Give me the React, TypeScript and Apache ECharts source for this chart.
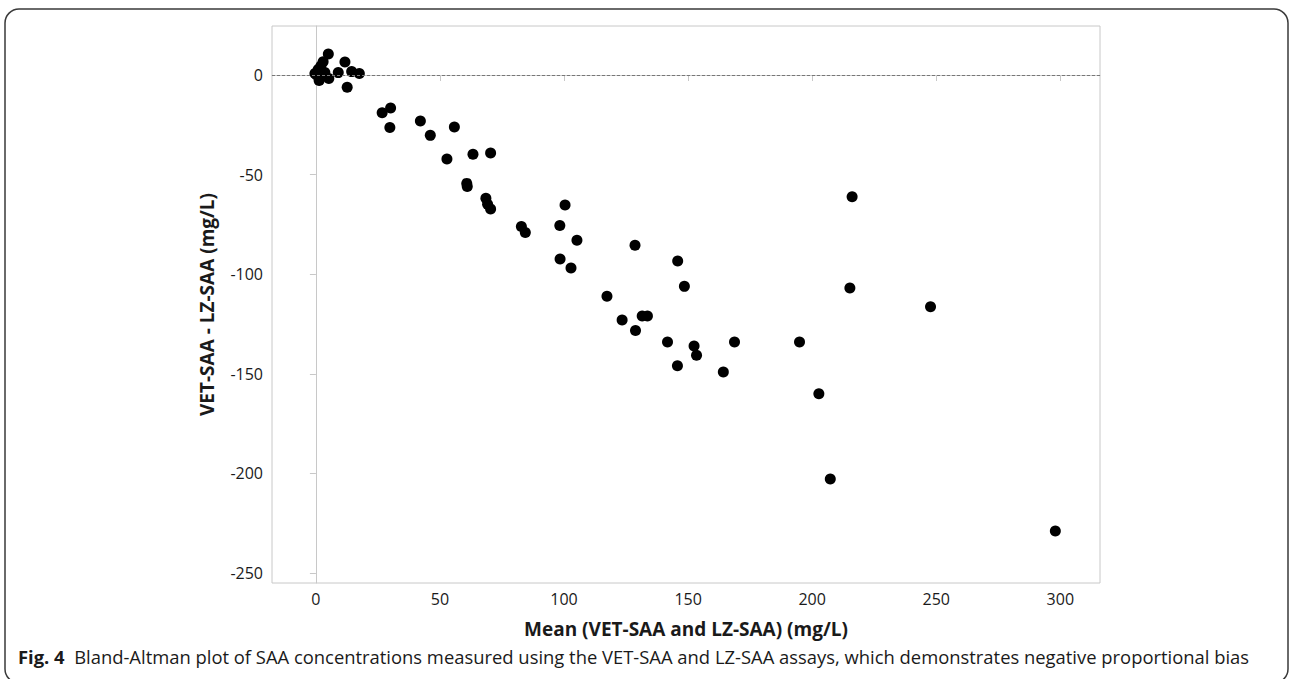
import React, { useEffect, useRef } from "react";
import * as echarts from "echarts";

const meanValues = [
  5.0, 2.9, 2.0, 11.7, 0.9, -0.4, 1.6, 3.6, 1.3, 5.2, 9.0, 14.4, 17.5, 12.6, 0.3, 2.5, 1.0,
  26.7, 30.1, 29.8, 42.1, 46.1, 55.8, 52.8, 63.3, 70.4, 60.8, 61.0, 68.5, 69.2, 70.4,
  82.8, 84.4, 100.4, 98.3, 105.2, 98.4, 102.8, 117.3, 123.4, 128.6, 128.8, 131.5, 133.6,
  141.7, 145.8, 148.5, 145.7, 152.4, 153.4, 164.2, 168.7, 194.9, 202.7, 207.3, 215.2,
  216.1, 247.7, 298.0,
];
const diffValues = [
  10.5, 6.7, 4.5, 6.5, 2.8, 0.8, 0.5, 1.2, -2.8, -1.7, 1.2, 1.7, 0.8, -6.2, 0.0, -0.8, 1.6,
  -18.9, -16.6, -26.3, -23.1, -30.3, -26.1, -42.2, -39.8, -39.2, -54.4, -56.0, -61.9, -64.9, -67.3,
  -76.1, -79.1, -65.3, -75.5, -83.0, -92.4, -96.9, -111.1, -123.0, -85.5, -128.2, -121.0, -121.0,
  -134.0, -93.4, -106.1, -145.9, -136.0, -140.7, -149.1, -134.0, -134.0, -160.0, -202.8, -106.9,
  -61.1, -116.3, -228.9,
];
const xTicks = [0, 50, 100, 150, 200, 250, 300];
const yTicks = [-250, -200, -150, -100, -50, 0];

const xTitle = "Mean (VET-SAA and LZ-SAA) (mg/L)";
const yTitle = "VET-SAA - LZ-SAA (mg/L)";
const captionLabel = "Fig. 4";
const captionText =
  "Bland-Altman plot of SAA concentrations measured using the VET-SAA and LZ-SAA assays, which demonstrates negative proportional bias";

const FONT = "'Open Sans', 'Noto Sans', sans-serif";

export default function App() {
  const ref = useRef<HTMLDivElement>(null);
  useEffect(() => {
    if (!ref.current) return;
    const chart = echarts.init(ref.current, undefined, { renderer: "svg" });
    const points = meanValues.map((m, i) => [m, diffValues[i]]);
    chart.setOption({
      animation: false,
      backgroundColor: "#ffffff",
      textStyle: { fontFamily: FONT },
      grid: {
        left: 272,
        right: 190,
        top: 26,
        bottom: 96,
        show: true,
        borderColor: "#c8c8c8",
        borderWidth: 1,
        outerBoundsMode: "none",
      },
      xAxis: {
        type: "value",
        min: -17.7,
        max: 316,
        name: xTitle,
        nameLocation: "middle",
        nameGap: 36,
        nameTextStyle: { fontFamily: FONT, fontSize: 19, fontWeight: "bold", color: "#1a1a1a" },
        axisLine: { show: true, lineStyle: { color: "#c8c8c8" } },
        axisTick: { show: true, length: 6, customValues: xTicks, lineStyle: { color: "#c8c8c8" } },
        axisLabel: { customValues: xTicks, fontSize: 16, color: "#1a1a1a", margin: 8, fontFamily: FONT },
        splitLine: { show: false },
      },
      yAxis: {
        type: "value",
        min: -255,
        max: 24.6,
        name: yTitle,
        nameLocation: "middle",
        nameRotate: 90,
        nameGap: 56,
        nameTextStyle: { fontFamily: FONT, fontSize: 19, fontWeight: "bold", color: "#1a1a1a" },
        axisLine: { show: true, lineStyle: { color: "#c8c8c8" } },
        axisTick: { show: true, length: 6, customValues: yTicks, lineStyle: { color: "#c8c8c8" } },
        axisLabel: { customValues: yTicks, fontSize: 16, color: "#1a1a1a", margin: 9, fontFamily: FONT },
        splitLine: { show: false },
      },
      series: [
        {
          type: "scatter",
          data: points,
          symbol: "circle",
          symbolSize: 11,
          itemStyle: { color: "#000000", opacity: 1 },
          markLine: {
            silent: true,
            symbol: ["none", "none"],
            label: { show: false },
            lineStyle: { color: "#777777", type: [3, 2], width: 1 },
            data: [{ yAxis: 0 }],
          },
        },
      ],
      graphic: [
        {
          type: "rect",
          shape: { x: 5, y: 9, width: 1283, height: 674, r: 14 },
          style: { fill: "none", stroke: "#3a3a3a", lineWidth: 1.5 },
          silent: true,
        },
        {
          type: "text",
          left: 18,
          top: 647,
          style: {
            text: "{b|" + captionLabel + "}  " + captionText,
            fontFamily: FONT,
            fontSize: 18.4,
            fill: "#1a1a1a",
            rich: {
              b: { fontFamily: FONT, fontSize: 18.4, fontWeight: "bold", fill: "#1a1a1a" },
            },
          },
        },
      ],
    });
    return () => chart.dispose();
  }, []);
  return (
    <div
      ref={ref}
      style={{ position: "absolute", left: 0, top: 0, width: 1290, height: 679 }}
    />
  );
}
